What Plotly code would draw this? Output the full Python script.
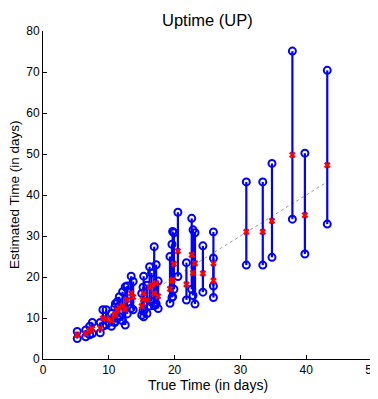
import plotly.graph_objects as go

true_t = [5.2, 6.5, 7.1, 7.5, 8.7, 9.1, 9.6, 10.4, 10.9, 11.0, 11.3, 11.6, 12.1, 12.5, 12.8,
          13.4, 13.7, 15.0, 15.2, 15.3, 15.8, 16.2, 16.5, 16.9, 17.2, 17.5, 19.3, 19.6, 19.7,
          19.9, 20.5, 21.8, 22.6, 22.8, 23.1, 24.3, 25.9, 25.9, 30.9, 33.4, 34.8, 37.9, 39.8, 43.2]
low_t = [5.0, 5.4, 5.9, 6.2, 6.4, 8.0, 8.3, 8.0, 8.9, 9.2, 9.9, 10.3, 9.3, 8.3, 11.0,
         12.4, 12.0, 10.7, 11.8, 10.3, 11.1, 12.9, 14.0, 13.0, 13.5, 12.3, 13.6, 15.0, 15.2,
         17.0, 20.1, 14.4, 17.0, 15.5, 13.4, 16.3, 17.8, 15.0, 22.9, 22.9, 24.8, 34.1, 25.6, 32.9]
est_t = [5.9, 6.2, 6.9, 7.4, 7.5, 9.9, 9.8, 9.4, 10.7, 11.0, 11.9, 12.6, 13.0, 12.1, 14.4,
         16.0, 15.1, 12.9, 14.5, 16.0, 14.4, 17.5, 18.0, 16.0, 18.5, 15.3, 17.1, 19.0, 19.3,
         23.2, 26.3, 18.2, 25.4, 21.0, 23.3, 20.9, 23.3, 19.1, 31.0, 31.0, 33.7, 49.8, 35.1, 47.3]
high_t = [6.7, 7.1, 8.0, 8.9, 8.9, 12.0, 12.0, 11.1, 12.6, 13.5, 14.0, 15.2, 16.4, 17.6, 17.8,
          20.2, 18.9, 16.0, 17.5, 20.2, 18.0, 22.5, 21.0, 27.4, 23.0, 19.0, 25.0, 28.0, 31.1,
          30.8, 35.8, 23.5, 34.3, 31.5, 30.8, 27.6, 31.0, 24.6, 43.2, 43.2, 47.7, 75.1, 50.2, 70.4]

x_ticks = [0, 10, 20, 30, 40, 50]
y_ticks = [0, 10, 20, 30, 40, 50, 60, 70, 80]

seg_x, seg_y = [], []
for t, lo, hi in zip(true_t, low_t, high_t):
    seg_x += [t, t, None]
    seg_y += [lo, hi, None]

fig = go.Figure()
diag = [min(true_t), max(true_t)]
fig.add_trace(go.Scatter(x=diag, y=diag, mode="lines",
                         line=dict(color="#999999", width=1, dash="dot"), hoverinfo="skip"))
fig.add_trace(go.Scatter(x=seg_x, y=seg_y, mode="lines",
                         line=dict(color="#0000ff", width=2.2)))
fig.add_trace(go.Scatter(x=true_t + true_t, y=low_t + high_t, mode="markers",
                         marker=dict(symbol="circle-open", size=7, color="#0000ff",
                                     line=dict(width=2, color="#0000ff"))))
fig.add_trace(go.Scatter(x=true_t, y=est_t, mode="markers",
                         marker=dict(symbol="x-thin-open", size=5, color="#ff0000",
                                     line=dict(width=2.4, color="#ff0000"))))

FONT = "Liberation Sans, Arial"
axis_common = dict(showgrid=False, zeroline=False, showline=True, linecolor="black",
                   linewidth=1, ticks="inside", ticklen=4, tickcolor="black",
                   automargin=False, ticklabeloverflow="allow",
                   tickfont=dict(family=FONT, size=12, color="black"))
fig.update_xaxes(range=[0, 50], tickvals=x_ticks, ticktext=[str(v) for v in x_ticks],
                 **axis_common)
fig.update_yaxes(range=[0, 80], tickvals=y_ticks, ticktext=[str(v) for v in y_ticks],
                 **axis_common)

# page body adds an 8px offset; figure is sized to compensate
W, H = 370, 391
L, R, T, B = 35, 6, 23, 40
pw, ph = W - L - R, H - T - B
fig.add_annotation(text="True Time (in days)", xref="paper", yref="paper",
                   x=0.5, y=-(377 - (H - B)) / ph, xanchor="center", yanchor="middle",
                   showarrow=False, font=dict(family=FONT, size=14, color="black"))
fig.add_annotation(text="Estimated Time (in days)", xref="paper", yref="paper",
                   x=(6 - L) / pw, y=0.5, xanchor="center", yanchor="middle", textangle=-90,
                   showarrow=False, font=dict(family=FONT, size=13.5, color="black"))
fig.add_annotation(text="Uptime (UP)", xref="paper", yref="paper",
                   x=(199 - L) / pw, y=1 + (T - 1) / ph, xanchor="center", yanchor="top",
                   showarrow=False, font=dict(family=FONT, size=16.5, color="black"))
fig.update_layout(width=W, height=H, showlegend=False,
                  paper_bgcolor="white", plot_bgcolor="white",
                  margin=dict(l=L, r=R, t=T, b=B, autoexpand=False))
fig.write_html("out.html")
